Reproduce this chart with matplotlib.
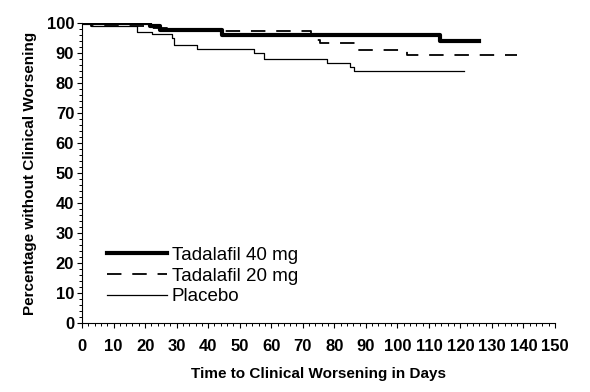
import matplotlib
matplotlib.use("Agg")
import matplotlib.pyplot as plt
import numpy as np

# Kaplan-Meier style step data (day, percent)
days_40 = [0, 21.5, 24.6, 44.3, 113.5, 126]
pct_40 = [100, 99.1, 97.6, 96.1, 94.2, 94.2]

days_20 = [0, 3, 21, 27, 72.5, 75.5, 87, 103, 138]
pct_20 = [100, 99.2, 98.5, 97.4, 94.3, 93.5, 91.0, 89.4, 89.4]

days_pl = [0, 3, 17.3, 22.2, 28.4, 29.2, 36.4, 54.6, 57.7, 77.6, 85, 86.3, 121]
pct_pl = [100, 99.2, 97.2, 96.3, 94.9, 92.7, 91.5, 90.2, 88.0, 86.6, 85.3, 84.0, 84.0]

labels = ["Tadalafil 40 mg", "Tadalafil 20 mg", "Placebo"]

plt.rcParams['font.family'] = ['Liberation Sans', 'DejaVu Sans']

fig = plt.figure(figsize=(5.9, 3.92), dpi=100)
ax = fig.add_axes([0.139, 0.176, 0.8017, 0.765])

ax.step(days_40, pct_40, where="post", color="black", linewidth=3.0, label=labels[0])
ax.step(days_20, pct_20, where="post", color="black", linewidth=1.3,
        dashes=(8, 6), label=labels[1])
ax.step(days_pl, pct_pl, where="post", color="black", linewidth=0.9, label=labels[2])

ax.set_xlim(0, 150)
ax.set_ylim(0, 100)
ax.set_xticks(np.arange(0, 151, 10))
ax.set_yticks(np.arange(0, 101, 10))
ax.set_xticks(np.arange(0, 151, 2), minor=True)
ax.set_yticks(np.arange(0, 101, 2), minor=True)

for s in ["top", "right"]:
    ax.spines[s].set_visible(False)
for s in ["left", "bottom"]:
    ax.spines[s].set_linewidth(0.8)

ax.tick_params(which="major", direction="out", length=3.6, width=0.8, labelsize=12)
ax.tick_params(which="minor", direction="out", length=2.2, width=0.7)
ax.tick_params(axis="x", which="major", pad=8)
ax.tick_params(axis="y", which="major", pad=2)
for lab in ax.get_xticklabels() + ax.get_yticklabels():
    lab.set_fontweight("bold")

ax.set_xlabel("Time to Clinical Worsening in Days", fontsize=11, fontweight="bold", labelpad=9)
ax.set_ylabel("Percentage without Clinical Worsening", fontsize=11, fontweight="bold", labelpad=7)

ax.legend(loc="upper left", bbox_to_anchor=(0.053, 0.255), frameon=False, fontsize=13.5,
          handlelength=3.2, handletextpad=0.25, labelspacing=0.2, borderpad=0,
          borderaxespad=0)

plt.savefig("out.png", dpi=100)
